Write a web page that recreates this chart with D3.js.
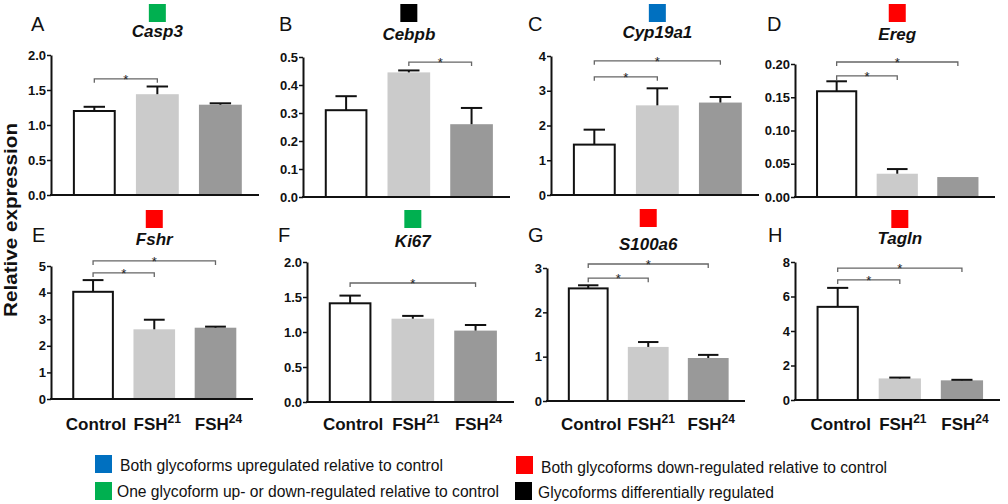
<!DOCTYPE html>
<html>
<head>
<meta charset="utf-8">
<script src="https://cdn.jsdelivr.net/npm/d3@7"></script>
<style>
  html, body { margin: 0; padding: 0; background: #fff; }
  svg { display: block; font-family: "Liberation Sans", Arial, sans-serif; }
</style>
</head>
<body>
<script>
// ---------------- DATA ----------------
const panelLetters = ["A", "B", "C", "D", "E", "F", "G", "H"];
const genes = ["Casp3", "Cebpb", "Cyp19a1", "Ereg", "Fshr", "Ki67", "S100a6", "Tagln"];
const groups = ["Control", "FSH21", "FSH24"];
const groupBase = ["Control", "FSH", "FSH"];
const groupSup = ["", "21", "24"];

const meanControl = [1.20, 0.31, 1.45, 0.159, 4.03, 1.41, 2.54, 5.40];
const meanFSH21   = [1.44, 0.445, 2.58, 0.035, 2.62, 1.19, 1.22, 1.25];
const meanFSH24   = [1.29, 0.26, 2.66, 0.030, 2.68, 1.02, 0.97, 1.14];

const semControl = [0.06, 0.05, 0.43, 0.015, 0.44, 0.11, 0.07, 1.10];
const semFSH21   = [0.11, 0.007, 0.49, 0.007, 0.36, 0.04, 0.11, 0.05];
const semFSH24   = [0.02, 0.058, 0.16, 0.0, 0.04, 0.08, 0.07, 0.03];

const yMax   = [2.0, 0.5, 4, 0.20, 5, 2.0, 3, 8];
const yStep  = [0.5, 0.1, 1, 0.05, 1, 0.5, 1, 2];
const yDecimals = [1, 1, 0, 2, 0, 1, 0, 0];

// significance brackets: [fromGroup, toGroup, height in data units]
const sigBrackets = [
  [[0, 1, 1.66]],
  [[1, 2, 0.482]],
  [[0, 1, 3.40], [0, 2, 3.86]],
  [[0, 1, 0.182], [0, 2, 0.203]],
  [[0, 1, 4.74], [0, 2, 5.19]],
  [[0, 2, 1.70]],
  [[0, 1, 2.77], [0, 2, 3.09]],
  [[0, 1, 6.96], [0, 2, 7.65]]
];

const regulation = ["one", "diff", "both-up", "both-down", "both-down", "one", "both-down", "both-down"];
const legendKeys = ["both-up", "both-down", "one", "diff"];
const legendLabels = [
  "Both glycoforms upregulated relative to control",
  "Both glycoforms down-regulated relative to control",
  "One glycoform up- or down-regulated relative to control",
  "Glycoforms differentially regulated"
];
const yAxisTitle = "Relative expression";

// ---------------- STYLE / LAYOUT ----------------
const regColor = { "both-up": "#0070C0", "both-down": "#FF0000", "one": "#00B050", "diff": "#000000" };
const barFill = ["#ffffff", "#cbcbcb", "#999999"];

const layout = [
  { x0: 51,  x1: 259,  top: 55,  bottom: 195, lx: 31,  ly: 31,  ty: 37,  sy: 4 },
  { x0: 303, x1: 510,  top: 57,  bottom: 197, lx: 279, ly: 31,  ty: 40,  sy: 4 },
  { x0: 551, x1: 759,  top: 56,  bottom: 195, lx: 528, ly: 31,  ty: 38,  sy: 4 },
  { x0: 795, x1: 995,  top: 64,  bottom: 197, lx: 767, ly: 31,  ty: 40,  sy: 4 },
  { x0: 51,  x1: 253,  top: 266, bottom: 399, lx: 32,  ly: 242, ty: 245, sy: 210 },
  { x0: 307, x1: 514,  top: 262, bottom: 402, lx: 278, ly: 242, ty: 247, sy: 210 },
  { x0: 547, x1: 745,  top: 268, bottom: 401, lx: 528, ly: 242, ty: 250, sy: 209 },
  { x0: 795, x1: 1000, top: 262, bottom: 400, lx: 768, ly: 242, ty: 244, sy: 210 }
];

const W = 1008, H = 504;
const svg = d3.select("body").append("svg").attr("width", W).attr("height", H);

const means = [meanControl, meanFSH21, meanFSH24];
const sems = [semControl, semFSH21, semFSH24];

genes.forEach((gene, i) => {
  const L = layout[i];
  const g = svg.append("g");
  const x = d3.scaleBand().domain([0, 1, 2]).range([L.x0, L.x1])
    .paddingInner(0.32).paddingOuter(0.31).align(0.56);
  const y = d3.scaleLinear().domain([0, yMax[i]]).range([L.bottom, L.top]);
  const bw = x.bandwidth();
  const cx = k => x(k) + bw / 2;
  const mid = (x(0) + x(2) + bw) / 2;

  // panel letter
  g.append("text").attr("x", L.lx).attr("y", L.ly).attr("font-size", 20)
    .attr("fill", "#111").text(panelLetters[i]);
  // colour square
  g.append("rect").attr("x", mid - 8.5).attr("y", L.sy).attr("width", 17).attr("height", 18)
    .attr("fill", regColor[regulation[i]]);
  // title
  g.append("text").attr("x", mid).attr("y", L.ty).attr("text-anchor", "middle")
    .attr("font-size", 17).attr("font-weight", "bold").attr("font-style", "italic")
    .attr("fill", "#111").text(gene);

  // bars
  [0, 1, 2].forEach(k => {
    const v = means[k][i];
    if (k === 0) {
      g.append("rect").attr("x", x(k) + 1).attr("y", y(v))
        .attr("width", bw - 2).attr("height", y(0) - y(v))
        .attr("fill", barFill[k]).attr("stroke", "#111").attr("stroke-width", 2);
    } else {
      g.append("rect").attr("x", x(k)).attr("y", y(v))
        .attr("width", bw).attr("height", y(0) - y(v))
        .attr("fill", barFill[k]);
    }
    const e = sems[k][i];
    if (e > 0) {
      const top = y(v + e);
      g.append("line").attr("x1", cx(k)).attr("x2", cx(k)).attr("y1", y(v)).attr("y2", top)
        .attr("stroke", "#111").attr("stroke-width", 2);
      g.append("line").attr("x1", cx(k) - bw / 4).attr("x2", cx(k) + bw / 4)
        .attr("y1", top).attr("y2", top).attr("stroke", "#111").attr("stroke-width", 2);
    }
  });

  // significance brackets
  sigBrackets[i].forEach(([a, b, h]) => {
    const yy = y(h);
    g.append("path")
      .attr("d", `M${cx(a)},${yy + 4}V${yy}H${cx(b)}V${yy + 4}`)
      .attr("fill", "none").attr("stroke", "#666").attr("stroke-width", 1.3);
    g.append("text").attr("x", (cx(a) + cx(b)) / 2).attr("y", yy + 5)
      .attr("text-anchor", "middle").attr("font-size", 13).attr("fill", "#222").text("*");
  });

  // y axis
  const ticks = d3.range(0, yMax[i] + yStep[i] / 2, yStep[i]);
  const ax = g.append("g").attr("transform", `translate(${L.x0},0)`)
    .call(d3.axisLeft(y).tickValues(ticks).tickFormat(d3.format(`.${yDecimals[i]}f`))
      .tickSize(4).tickSizeOuter(0).tickPadding(1));
  ax.select(".domain").attr("stroke", "#111").attr("stroke-width", 2);
  ax.selectAll(".tick line").attr("stroke", "#111").attr("stroke-width", 1.5);
  ax.selectAll(".tick text").attr("font-size", 13).attr("font-weight", "bold")
    .attr("fill", "#111").attr("font-family", "Liberation Sans, Arial, sans-serif");

  // x axis baseline
  g.append("line").attr("x1", L.x0 - 1).attr("x2", L.x1).attr("y1", y(0)).attr("y2", y(0))
    .attr("stroke", "#111").attr("stroke-width", 2);

  // x labels (bottom row only)
  if (i >= 4) {
    [0, 1, 2].forEach(k => {
      const t = g.append("text").attr("x", cx(k) + 3).attr("y", 430)
        .attr("text-anchor", "middle").attr("font-size", 17).attr("font-weight", "bold")
        .attr("fill", "#111");
      t.append("tspan").text(groupBase[k]);
      if (groupSup[k]) {
        t.append("tspan").attr("font-size", 12).attr("dy", -7).text(groupSup[k]);
      }
    });
  }
});

// y axis title
svg.append("text").attr("transform", "translate(17,220) rotate(-90)")
  .attr("text-anchor", "middle").attr("font-size", 18).attr("font-weight", "bold")
  .attr("fill", "#111").attr("textLength", 194).attr("lengthAdjust", "spacingAndGlyphs")
  .text(yAxisTitle);

// legend
const legendPos = [
  { rx: 95,  ry: 455, tx: 120, ty: 471, tw: 323 },
  { rx: 516, ry: 456, tx: 541, ty: 473, tw: 346 },
  { rx: 95,  ry: 482, tx: 117, ty: 497, tw: 382 },
  { rx: 515, ry: 482, tx: 538, ty: 498, tw: 236 }
];
legendKeys.forEach((key, j) => {
  const p = legendPos[j];
  svg.append("rect").attr("x", p.rx).attr("y", p.ry).attr("width", 17).attr("height", 18)
    .attr("fill", regColor[key]);
  svg.append("text").attr("x", p.tx).attr("y", p.ty).attr("font-size", 16)
    .attr("fill", "#111").attr("textLength", p.tw).attr("lengthAdjust", "spacingAndGlyphs")
    .text(legendLabels[j]);
});
</script>
</body>
</html>
